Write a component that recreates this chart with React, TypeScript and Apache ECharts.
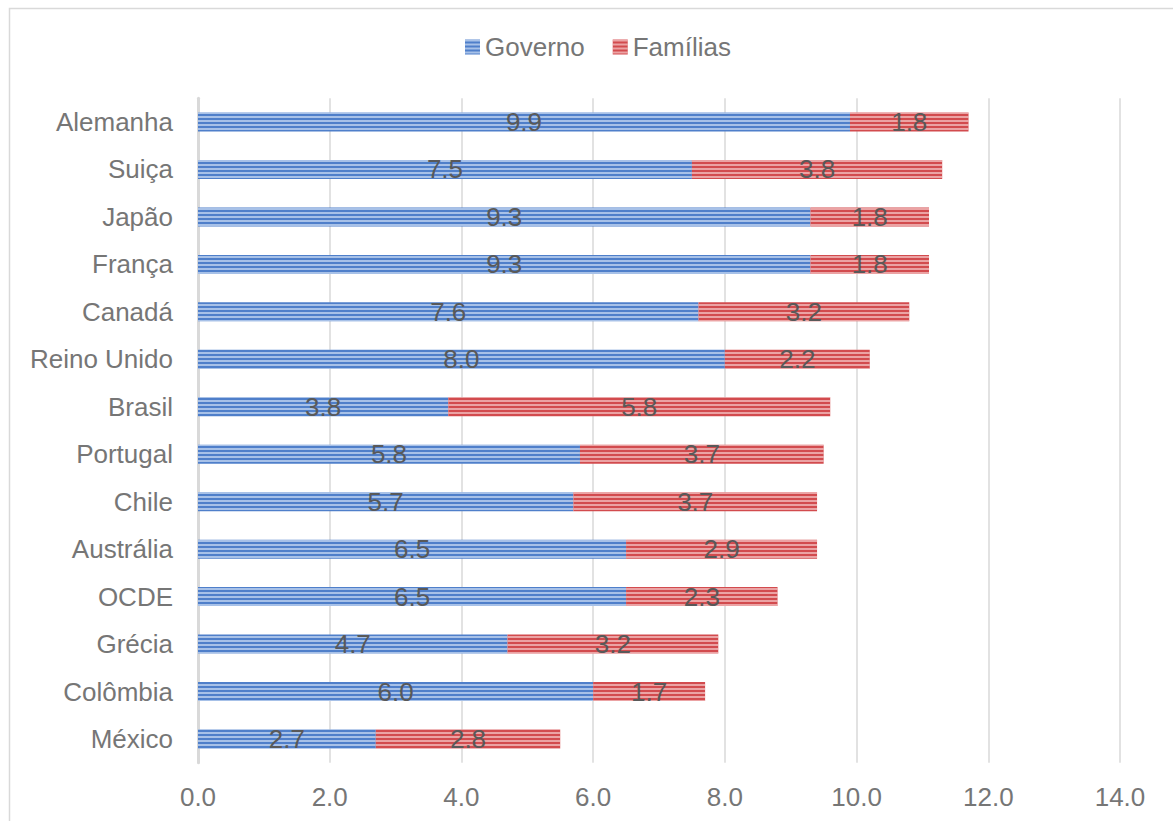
import React, { useEffect, useRef } from "react";
import * as echarts from "echarts";

const categories = ["Alemanha", "Suiça", "Japão", "França", "Canadá", "Reino Unido", "Brasil", "Portugal", "Chile", "Austrália", "OCDE", "Grécia", "Colômbia", "México"];
const governo = [9.9, 7.5, 9.3, 9.3, 7.6, 8.0, 3.8, 5.8, 5.7, 6.5, 6.5, 4.7, 6.0, 2.7];
const familias = [1.8, 3.8, 1.8, 1.8, 3.2, 2.2, 5.8, 3.7, 3.7, 2.9, 2.3, 3.2, 1.7, 2.8];
const seriesNames = ["Governo", "Famílias"];

const FONT = "Liberation Sans, Arial, sans-serif";
const TEXT = "#767676";
const LABEL = "#595959";

export default function App() {
  const ref = useRef<HTMLDivElement>(null);
  useEffect(() => {
    const chart = echarts.init(ref.current!, null, { renderer: "svg" });
    const decal = (c: string) => ({
      symbol: "rect",
      symbolSize: 1,
      dashArrayX: [1, 0],
      dashArrayY: [1.5, 1.5],
      color: c,
      rotation: 0,
    });
    const label = {
      show: true,
      position: "inside",
      color: LABEL,
      fontSize: 26,
      fontFamily: FONT,
      formatter: (p: any) => Number(p.value).toFixed(1),
    };
    chart.setOption({
      animation: false,
      backgroundColor: "#ffffff",
      aria: { enabled: false, decal: { show: true } },
      graphic: [
        {
          type: "rect",
          shape: { x: 9.5, y: 8.5, width: 1200, height: 900 },
          style: { fill: "none", stroke: "#d9d9d9", lineWidth: 1.5 },
          silent: true,
        },
      ],
      legend: {
        top: 29,
        left: 460,
        itemWidth: 15,
        itemHeight: 15,
        itemGap: 28,
        textStyle: { color: TEXT, fontSize: 26, fontFamily: FONT },
        icon: "rect",
        data: seriesNames,
      },
      grid: { left: 198, right: 53, top: 98.3, bottom: 58.3, containLabel: false },
      xAxis: {
        type: "value",
        min: 0,
        max: 14,
        interval: 2,
        axisLine: { show: false },
        axisTick: { show: false },
        splitLine: { lineStyle: { color: "#d9d9d9", width: 1.5 } },
        axisLabel: {
          color: TEXT,
          fontSize: 26,
          fontFamily: FONT,
          margin: 21,
          formatter: (v: number) => v.toFixed(1),
        },
      },
      yAxis: {
        type: "category",
        inverse: true,
        data: categories,
        axisLine: { show: true, lineStyle: { color: "#d9d9d9", width: 3 } },
        axisTick: { show: false },
        axisLabel: { color: TEXT, fontSize: 26, fontFamily: FONT, margin: 25 },
      },
      series: [
        {
          name: seriesNames[0],
          type: "bar",
          stack: "total",
          data: governo,
          barWidth: 19,
          itemStyle: { color: "#4f7fca", decal: decal("rgba(225,236,252,0.6)") },
          label,
        },
        {
          name: seriesNames[1],
          type: "bar",
          stack: "total",
          data: familias,
          barWidth: 19,
          itemStyle: { color: "#d24b4e", decal: decal("rgba(252,222,222,0.6)") },
          label,
        },
      ],
    });
    return () => chart.dispose();
  }, []);
  return (
    <div
      ref={ref}
      style={{ position: "fixed", left: 0, top: 0, width: 1173, height: 821 }}
    />
  );
}
